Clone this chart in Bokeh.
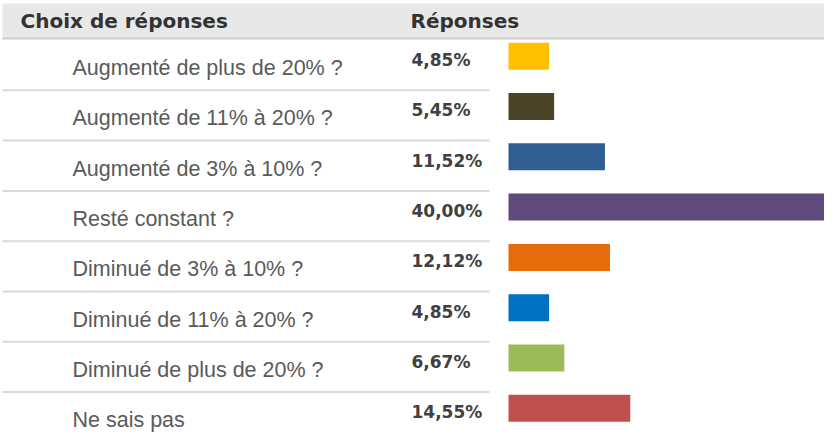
from bokeh.plotting import figure
from bokeh.models import Range1d, ColumnDataSource
from bokeh.core.properties import value
from bokeh.embed import file_html
from bokeh.resources import INLINE

# ---------------- data ----------------
categories = [
    "Augmenté de plus de 20% ?",
    "Augmenté de 11% à 20% ?",
    "Augmenté de 3% à 10% ?",
    "Resté constant ?",
    "Diminué de 3% à 10% ?",
    "Diminué de 11% à 20% ?",
    "Diminué de plus de 20% ?",
    "Ne sais pas",
]
percentages = [4.85, 5.45, 11.52, 40.00, 12.12, 4.85, 6.67, 14.55]
bar_colors = ["#ffc000", "#4a4427", "#2f5e93", "#604a7b",
              "#e46c0a", "#0070c0", "#9bbb59", "#c0504d"]
header_choice = "Choix de réponses"
header_answers = "Réponses"

# ---------------- layout constants (pixels) ----------------
W, H = 824, 432
X0 = 508.0      # x pixel of the bar origin (0 %)
SX = 8.37       # pixels per percent
TOP0 = 39.5     # y pixel of the top of the first row
P = 50.3        # row pitch in pixels


def dx(px):
    return (px - X0) / SX


def dy(px):
    return (px - TOP0) / P


n = len(categories)
rows = list(range(n))
labels_pct = [f"{v:.2f}".replace(".", ",") + "%" for v in percentages]

src = ColumnDataSource(dict(
    cat=categories,
    val=percentages,
    color=bar_colors,
    pct=labels_pct,
    bar_y=[r + 16.2 / P for r in rows],
    lab_y=[r + 0.5 + 3.0 / P for r in rows],
    pct_y=[r + 0.5 - 5.0 / P for r in rows],
))

p = figure(width=W, height=H,
           x_range=Range1d(dx(0), dx(W)),
           y_range=Range1d(dy(H), dy(0)),
           output_backend="svg", toolbar_location=None,
           x_axis_location=None, y_axis_location=None,
           min_border=0, outline_line_color=None,
           background_fill_color="white", border_fill_color="white")
p.grid.visible = False

# header band
p.quad(left=[dx(2)], right=[dx(W + 10)], top=[dy(3)], bottom=[dy(38.5)],
       fill_color="#e8e8e8", line_color=None)
p.segment(x0=[dx(2)], x1=[dx(W + 10)], y0=[dy(38)], y1=[dy(38)],
          line_color="#cdcdcd", line_width=2)

# row separators
p.segment(x0=[dx(2)] * (n - 1), x1=[dx(489)] * (n - 1),
          y0=rows[1:], y1=rows[1:], line_color="#d9d9d9", line_width=2)

# header texts
p.text(x=[dx(20)], y=[dy(20.5)], text=[header_choice],
       text_font=value("DejaVu Sans"), text_font_style="bold",
       text_font_size="20px", text_color="#333333",
       text_baseline="middle", text_align="left")
p.text(x=[dx(410)], y=[dy(20.5)], text=[header_answers],
       text_font=value("DejaVu Sans"), text_font_style="bold",
       text_font_size="20px", text_color="#333333",
       text_baseline="middle", text_align="left")

# bars
p.hbar(y="bar_y", left=0, right="val", height=27.0 / P,
       fill_color="color", line_color=None, source=src)

# category labels
p.text(x=dx(72), y="lab_y", text="cat", source=src,
       text_font=value("Liberation Sans"), text_font_size="21.5px",
       text_color="#5a5a5a", text_baseline="middle", text_align="left")

# percentage labels
p.text(x=dx(411), y="pct_y", text="pct", source=src,
       text_font=value("DejaVu Sans"), text_font_style="bold",
       text_font_size="17px", text_color="#404040",
       text_baseline="middle", text_align="left")

open("out.html", "w").write(file_html(p, INLINE))
